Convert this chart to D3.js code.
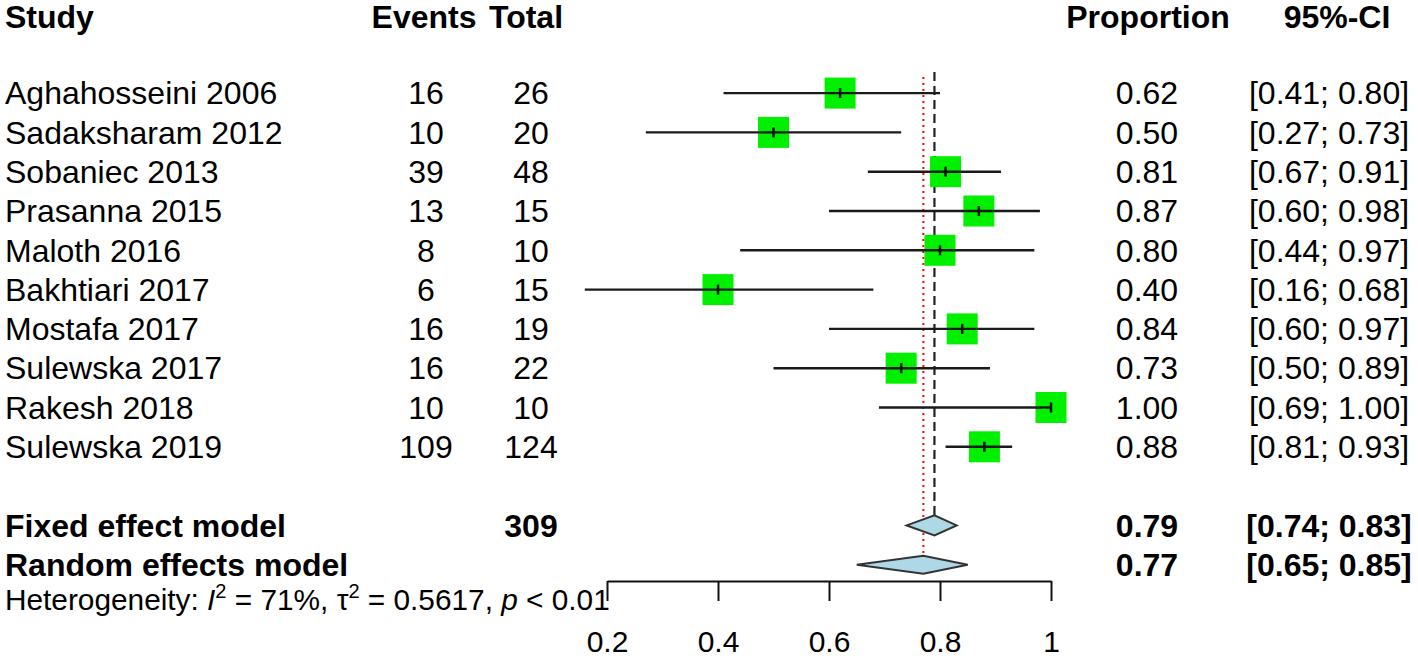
<!DOCTYPE html>
<html>
<head>
<meta charset="utf-8">
<script src="https://cdn.jsdelivr.net/npm/d3@7"></script>
<style>
  html, body { margin: 0; padding: 0; background: #fff; }
  svg { display: block; }
  text { font-family: "Liberation Sans", Arial, sans-serif; fill: #000; }
</style>
</head>
<body>
<svg id="chart" width="1418" height="659"></svg>
<script>
// ---- data ----
const studies = ["Aghahosseini 2006","Sadaksharam 2012","Sobaniec 2013","Prasanna 2015","Maloth 2016","Bakhtiari 2017","Mostafa 2017","Sulewska 2017","Rakesh 2018","Sulewska 2019"];
const events = [16, 10, 39, 13, 8, 6, 16, 16, 10, 109];
const totals = [26, 20, 48, 15, 10, 15, 19, 22, 10, 124];
const proportions = [0.62, 0.50, 0.81, 0.87, 0.80, 0.40, 0.84, 0.73, 1.00, 0.88];
const lowerCI = [0.41, 0.27, 0.67, 0.60, 0.44, 0.16, 0.60, 0.50, 0.69, 0.81];
const upperCI = [0.80, 0.73, 0.91, 0.98, 0.97, 0.68, 0.97, 0.89, 1.00, 0.93];
const pooledLabels = ["Fixed effect model", "Random effects model"];
const pooledTotals = ["309", ""];
const pooledProp = [0.79, 0.77];
const pooledLower = [0.74, 0.65];
const pooledUpper = [0.83, 0.85];
const headers = ["Study", "Events", "Total", "Proportion", "95%-CI"];
const tickValues = [0.2, 0.4, 0.6, 0.8, 1];

// ---- scales ----
const x = d3.scaleLinear().domain([0.2, 1]).range([607, 1051]);
const row = d3.scaleLinear().domain([0, 1]).range([14.5, 53.8]);
const f2 = d3.format(".2f");

const svg = d3.select("#chart");
const FS = 32;
const colX = { study: 5, events: 426, total: 531, prop: 1147, ci: 1329 };
const headY = 17;

// headers
const hdr = svg.append("g").attr("font-weight", "bold").attr("font-size", FS);
hdr.append("text").attr("x", colX.study).attr("y", headY).attr("dy", "0.35em").text(headers[0]);
hdr.append("text").attr("x", 424).attr("y", headY).attr("dy", "0.35em").attr("text-anchor", "middle").text(headers[1]);
hdr.append("text").attr("x", 526).attr("y", headY).attr("dy", "0.35em").attr("text-anchor", "middle").text(headers[2]);
hdr.append("text").attr("x", 1148).attr("y", headY).attr("dy", "0.35em").attr("text-anchor", "middle").text(headers[3]);
hdr.append("text").attr("x", 1337).attr("y", headY).attr("dy", "0.35em").attr("text-anchor", "middle").text(headers[4]);

// reference lines
svg.append("line")
  .attr("x1", x(pooledProp[0])).attr("x2", x(pooledProp[0]))
  .attr("y1", 72).attr("y2", row(13) - 10)
  .attr("stroke", "#222").attr("stroke-width", 2.2).attr("stroke-dasharray", "9,5");
svg.append("line")
  .attr("x1", x(pooledProp[1])).attr("x2", x(pooledProp[1]))
  .attr("y1", 77).attr("y2", row(14) - 8)
  .attr("stroke", "#ff0000").attr("stroke-width", 2).attr("stroke-dasharray", "2,4");

// study rows
const rows = svg.append("g").selectAll("g").data(studies).join("g")
  .attr("transform", (d, i) => `translate(0,${row(i + 2)})`);

rows.append("text").attr("x", colX.study).attr("dy", "0.35em").attr("font-size", FS).text(d => d);
rows.append("text").attr("x", colX.events).attr("dy", "0.35em").attr("font-size", FS).attr("text-anchor", "middle").text((d, i) => events[i]);
rows.append("text").attr("x", colX.total).attr("dy", "0.35em").attr("font-size", FS).attr("text-anchor", "middle").text((d, i) => totals[i]);
rows.append("text").attr("x", colX.prop).attr("dy", "0.35em").attr("font-size", FS).attr("text-anchor", "middle").text((d, i) => f2(proportions[i]));
rows.append("text").attr("x", colX.ci).attr("dy", "0.35em").attr("font-size", FS).attr("text-anchor", "middle")
  .text((d, i) => `[${f2(lowerCI[i])}; ${f2(upperCI[i])}]`);

const SQ = 31;
rows.append("rect")
  .attr("x", (d, i) => x(proportions[i]) - SQ / 2).attr("y", -SQ / 2)
  .attr("width", SQ).attr("height", SQ).attr("fill", "#00f000");
rows.append("line")
  .attr("x1", (d, i) => x(lowerCI[i])).attr("x2", (d, i) => x(upperCI[i]))
  .attr("y1", 0).attr("y2", 0).attr("stroke", "#1a1a1a").attr("stroke-width", 2.4);
rows.append("line")
  .attr("x1", (d, i) => x(proportions[i])).attr("x2", (d, i) => x(proportions[i]))
  .attr("y1", -5).attr("y2", 5).attr("stroke", "#111").attr("stroke-width", 2.5);

// pooled rows
const halfH = [10, 9];
const pooled = svg.append("g").selectAll("g").data(pooledLabels).join("g")
  .attr("transform", (d, i) => `translate(0,${row(i + 13)})`);
pooled.append("text").attr("x", colX.study).attr("dy", "0.35em").attr("font-size", FS).attr("font-weight", "bold").text(d => d);
pooled.append("text").attr("x", colX.total).attr("dy", "0.35em").attr("font-size", FS).attr("font-weight", "bold").attr("text-anchor", "middle").text((d, i) => pooledTotals[i]);
pooled.append("text").attr("x", colX.prop).attr("dy", "0.35em").attr("font-size", FS).attr("font-weight", "bold").attr("text-anchor", "middle").text((d, i) => f2(pooledProp[i]));
pooled.append("text").attr("x", colX.ci).attr("dy", "0.35em").attr("font-size", FS).attr("font-weight", "bold").attr("text-anchor", "middle")
  .text((d, i) => `[${f2(pooledLower[i])}; ${f2(pooledUpper[i])}]`);
pooled.append("polygon")
  .attr("points", (d, i) => [
    [x(pooledLower[i]), 0], [x(pooledProp[i]), -halfH[i]],
    [x(pooledUpper[i]), 0], [x(pooledProp[i]), halfH[i]]
  ].map(p => p.join(",")).join(" "))
  .attr("fill", "#add8e6").attr("stroke", "#333").attr("stroke-width", 2);

// heterogeneity text
const het = svg.append("text").attr("x", colX.study).attr("y", row(15) - 4).attr("dy", "0.35em").attr("font-size", 29.8);
het.append("tspan").text("Heterogeneity: ");
het.append("tspan").attr("font-style", "italic").text("I");
het.append("tspan").attr("font-size", 20).attr("dy", -12).text("2");
het.append("tspan").attr("dy", 12).text(" = 71%, τ");
het.append("tspan").attr("font-size", 20).attr("dy", -12).text("2");
het.append("tspan").attr("dy", 12).text(" = 0.5617, ");
het.append("tspan").attr("font-style", "italic").text("p");
het.append("tspan").text(" < 0.01");

// axis
const axis = d3.axisBottom(x).tickValues(tickValues).tickSize(20).tickSizeOuter(0).tickPadding(30)
  .tickFormat(d => String(d));
const gAxis = svg.append("g").attr("transform", "translate(0,581)").call(axis);
gAxis.select(".domain").attr("stroke", "#111").attr("stroke-width", 2);
gAxis.selectAll(".tick line").attr("stroke", "#111").attr("stroke-width", 2);
gAxis.selectAll(".tick text").attr("font-size", 30).attr("font-family", "Liberation Sans, Arial, sans-serif").attr("fill", "#000");
</script>
</body>
</html>
